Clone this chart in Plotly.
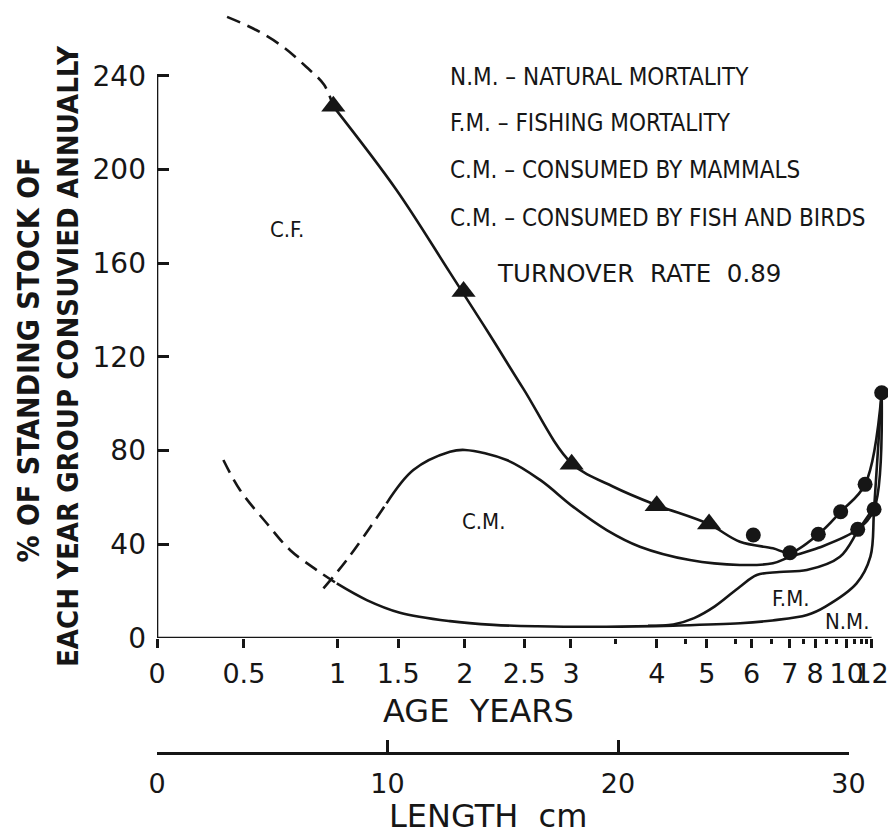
import plotly.graph_objects as go

# ---------------- data (x in cm of body length, y in % of standing stock) -------------
AGE_TICK_LABELS = ["0", "0.5", "1", "1.5", "2", "2.5", "3", "4", "5", "6", "7", "8", "10", "12"]
AGE_TICK_CM = [0, 3.77, 7.84, 10.46, 13.36, 15.93, 17.96, 21.68, 23.85, 25.80, 27.46, 28.55, 29.92, 31.0]
AGE_MINOR_CM = [19.91, 22.91, 25.08, 26.67, 28.04, 29.05, 29.49, 30.28, 30.57, 30.79]
LENGTH_TICKS = [0, 10, 20, 30]
Y_TICKS = [0, 40, 80, 120, 160, 200, 240]

# upper curve (total consumed, C.F. boundary)
CF_DASH_CM = [3.04, 4.30, 5.47, 6.47, 7.25, 7.65]
CF_DASH_PCT = [265.2, 259.6, 252.4, 243.9, 236.2, 227.0]
CF_CM = [7.65, 10.39, 12.71, 14.4, 15.89, 17.99, 19.8, 21.6, 23.92, 25.29, 26.72, 27.46, 28.69, 29.66, 30.72, 31.44]
CF_PCT = [227.0, 191.3, 156.0, 130.0, 106.5, 74.6, 64.6, 57.0, 48.7, 41.1, 38.3, 36.4, 44.3, 53.9, 65.6, 104.7]

# C.M. boundary
CM_DASH_CM = [7.22, 8.23, 9.96]
CM_DASH_PCT = [21.2, 33.3, 57.5]
CM_CM = [9.96, 11.12, 12.71, 13.36, 15.17, 16.62, 18.06, 19.51, 20.95, 23.12, 25.29, 26.72, 27.46, 28.7, 30.4, 31.11, 31.44]
CM_PCT = [57.5, 71.7, 79.5, 80.3, 76.0, 67.5, 56.0, 46.1, 39.0, 33.3, 31.2, 31.9, 34.7, 38.5, 46.4, 55.0, 104.7]

# F.M. boundary
FM_CM = [21.3, 22.4, 23.3, 24.2, 25.29, 26.02, 27.0, 28.19, 29.63, 30.43, 31.08]
FM_PCT = [5.2, 5.8, 8.5, 13.5, 21.9, 26.9, 28.2, 29.0, 34.7, 46.1, 55.4]

# N.M. curve
NM_DASH_CM = [2.88, 3.6, 4.76, 5.77, 6.93, 7.8]
NM_DASH_PCT = [76.0, 63.2, 49.0, 37.6, 29.0, 23.3]
NM_CM = [7.8, 9.1, 10.54, 12.71, 14.6, 16.5, 19.5, 22.4, 25.3, 26.7, 28.2, 29.0, 30.35, 30.95, 31.11, 31.44]
NM_PCT = [23.3, 16.2, 10.8, 7.2, 5.6, 5.0, 4.8, 5.3, 6.3, 7.5, 9.8, 13.4, 23.3, 34.7, 55.0, 104.7]

# observed points
TRI_CM = [7.65, 13.3, 17.99, 21.68, 23.95]
TRI_PCT = [227.0, 148.0, 74.2, 56.5, 48.7]
DOT_CM = [25.87, 27.46, 28.69, 29.66, 30.72, 31.44, 30.4, 31.11]
DOT_PCT = [44.0, 36.4, 44.3, 53.9, 65.6, 104.7, 46.4, 55.0]

LEGEND_LINES = ["N.M. \u2013 NATURAL MORTALITY", "F.M. \u2013 FISHING MORTALITY",
                "C.M. \u2013 CONSUMED BY MAMMALS", "C.M. \u2013 CONSUMED BY FISH AND BIRDS"]
TURNOVER = "TURNOVER  RATE  0.89"
Y_TITLE = ["% OF STANDING STOCK OF", "EACH YEAR GROUP CONSUVIED ANNUALLY"]

# ---------------- styling / layout helpers ----------------
OFF = 8                      # page body margin of the html page
W, H = 896 - OFF, 838 - OFF
ML, MR, MT, MB = 157 - OFF, 0, 10 - OFF, 85
PW, PH = W - ML - MR, H - MT - MB
PX_PER_CM = 23.05
PX_PER_PCT = 2.342
Y0_PX = 638                  # page pixel row of y = 0
RULER_PX = 753               # page pixel row of the length ruler

INK = "#161616"
LW = 2.6
DASH = "14px,8px"
FONT = "DejaVu Sans"
NARROW = "Liberation Sans Narrow, DejaVu Sans Condensed, DejaVu Sans"


def px_x(px):   # page pixel column -> paper x
    return (px - 157) / PW


def px_y(py):   # page pixel row -> paper y
    return (RULER_PX - py) / PH


x_max = PW / PX_PER_CM
y_dom0 = (RULER_PX - Y0_PX) / PH
y_max = (Y0_PX - 10) / PX_PER_PCT

fig = go.Figure()


def line(xs, ys, dash=None):
    fig.add_trace(go.Scatter(x=xs, y=ys, mode="lines",
                             line=dict(color=INK, width=LW, shape="spline", smoothing=1.0,
                                       dash=dash if dash else "solid"),
                             hoverinfo="skip", showlegend=False))


line(CF_DASH_CM, CF_DASH_PCT, DASH)
line(CF_CM, CF_PCT)
line(CM_DASH_CM, CM_DASH_PCT, DASH)
line(CM_CM, CM_PCT)
line(FM_CM, FM_PCT)
line(NM_DASH_CM, NM_DASH_PCT, DASH)
line(NM_CM, NM_PCT)

fig.add_trace(go.Scatter(x=TRI_CM, y=TRI_PCT, mode="markers", cliponaxis=False,
                         marker=dict(symbol="triangle-up", size=21, color=INK),
                         hoverinfo="skip", showlegend=False))
fig.add_trace(go.Scatter(x=DOT_CM, y=DOT_PCT, mode="markers", cliponaxis=False,
                         marker=dict(symbol="circle", size=15, color=INK),
                         hoverinfo="skip", showlegend=False))
# carrier trace for the length ruler axis
fig.add_trace(go.Scatter(x=[LENGTH_TICKS[0], LENGTH_TICKS[-1]], y=[None, None], xaxis="x2", yaxis="y",
                         mode="lines", hoverinfo="skip", showlegend=False))

# axis lines (y only up to 240, x only to age 12)
fig.add_shape(type="line", xref="x", yref="y", x0=0, x1=0, y0=0, y1=Y_TICKS[-1],
              line=dict(color=INK, width=LW))
fig.add_shape(type="line", xref="x", yref="y", x0=0, x1=AGE_TICK_CM[-1], y0=0, y1=0,
              line=dict(color=INK, width=LW))

ann = []
for i, t in enumerate(LEGEND_LINES):
    ann.append(dict(text=t, x=px_x(448), y=px_y([77, 123, 170, 218][i]), xref="paper", yref="paper",
                    xanchor="left", yanchor="middle", showarrow=False,
                    font=dict(family=NARROW, size=24, color=INK)))
ann.append(dict(text=TURNOVER, x=px_x(495), y=px_y(273), xref="paper", yref="paper",
                xanchor="left", yanchor="middle", showarrow=False,
                font=dict(family=FONT, size=24.5, color=INK)))
for txt, cx, cy in [("C.F.", 287, 230), ("C.M.", 483, 521), ("F.M.", 791, 598), ("N.M.", 847, 621)]:
    ann.append(dict(text=txt, x=px_x(cx), y=px_y(cy), xref="paper", yref="paper",
                    xanchor="center", yanchor="middle", showarrow=False,
                    font=dict(family=NARROW, size=22, color=INK)))
for txt, cx, cy, fs in [(Y_TITLE[0], 27.5, 360, 30), (Y_TITLE[1], 67.5, 356.5, 29)]:
    ann.append(dict(text="<b>" + txt + "</b>", x=px_x(cx), y=px_y(cy), xref="paper", yref="paper",
                    xanchor="center", yanchor="middle", textangle=-90, showarrow=False,
                    font=dict(family=NARROW, size=fs, color=INK)))
ann.append(dict(text="AGE  YEARS", x=px_x(478), y=px_y(711), xref="paper", yref="paper",
                xanchor="center", yanchor="middle", showarrow=False,
                font=dict(family=FONT, size=32, color=INK)))
ann.append(dict(text="LENGTH  cm", x=px_x(488), y=px_y(816), xref="paper", yref="paper",
                xanchor="center", yanchor="middle", showarrow=False,
                font=dict(family=FONT, size=32, color=INK)))

fig.update_layout(
    width=W, height=H, margin=dict(l=ML, r=MR, t=MT, b=MB, autoexpand=False),
    paper_bgcolor="white", plot_bgcolor="rgba(0,0,0,0)", showlegend=False,
    annotations=ann,
    xaxis=dict(range=[0, x_max], domain=[0, 1], anchor="y", showgrid=False, zeroline=False,
               automargin=False,
               showline=False, tickmode="array", tickvals=AGE_TICK_CM, ticktext=AGE_TICK_LABELS,
               ticks="outside", ticklen=9, tickwidth=LW, tickcolor=INK, tickangle=0,
               ticklabelstandoff=3,
               tickfont=dict(family=FONT, size=27, color=INK),
               minor=dict(tickmode="array", tickvals=AGE_MINOR_CM, ticks="outside", ticklen=5,
                          tickwidth=LW, tickcolor=INK, showgrid=False)),
    xaxis2=dict(range=[0, LENGTH_TICKS[-1]], domain=[0, LENGTH_TICKS[-1] * PX_PER_CM / PW],
                anchor="free", position=0, showgrid=False, zeroline=False, automargin=False,
                showline=True, linecolor=INK, linewidth=LW,
                tickmode="array", tickvals=LENGTH_TICKS, ticks="inside", ticklen=12,
                tickwidth=LW, tickcolor=INK, tickangle=0, ticklabelstandoff=6,
                tickfont=dict(family=FONT, size=27, color=INK)),
    yaxis=dict(range=[0, y_max], domain=[y_dom0, 1], anchor="x", showgrid=False, zeroline=False,
               automargin=False,
               showline=False, tickmode="array", tickvals=Y_TICKS, ticks="inside", ticklen=12,
               tickwidth=LW, tickcolor=INK, ticklabelstandoff=10,
               tickfont=dict(family=FONT, size=28, color=INK)),
)

fig.write_html("out.html")
